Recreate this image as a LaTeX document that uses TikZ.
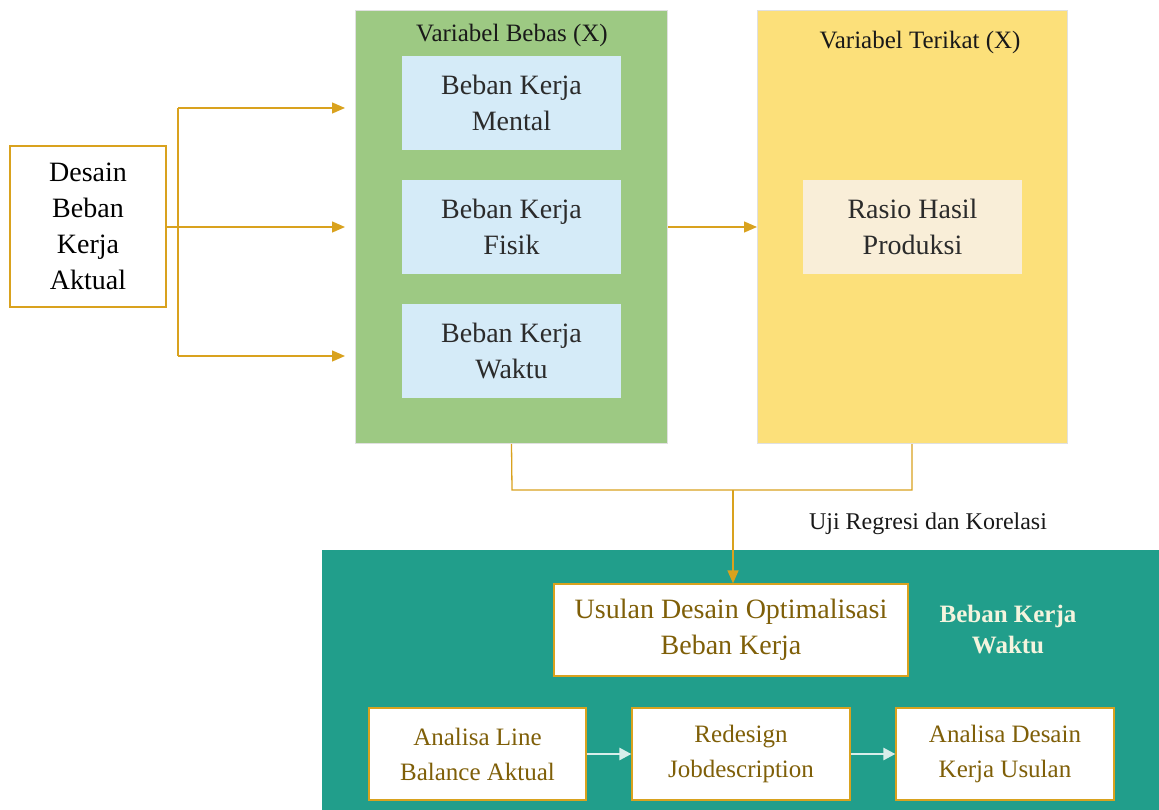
\documentclass[tikz,border=0pt]{standalone}
\usepackage{fontspec}
\setmainfont{Liberation Serif}
\usetikzlibrary{arrows.meta}
\definecolor{gold}{HTML}{D9A21E}
\definecolor{panelgreen}{HTML}{9DC983}
\definecolor{panelyellow}{HTML}{FCE07A}
\definecolor{boxblue}{HTML}{D5EBF8}
\definecolor{boxcream}{HTML}{F9EED8}
\definecolor{teal}{HTML}{219E8B}
\definecolor{browntext}{HTML}{7F5F08}
\definecolor{paletext}{HTML}{F4F4DE}
\definecolor{palearrow}{HTML}{D8EEEA}
\definecolor{darktext}{HTML}{2B2B2B}
\tikzset{
  panel/.style={draw=black!12, line width=1pt},
  inner/.style={minimum width=219pt, minimum height=94pt, align=center,
    text=darktext, font=\fontsize{28}{36}\selectfont, inner sep=0pt},
  tealbox/.style={draw=gold, fill=white, line width=1.2pt, align=center,
    text=browntext, inner sep=0pt},
  flow/.style={draw=gold, line width=1.3pt},
  flowarrow/.style={flow, -{Triangle[length=13pt,width=11pt]}},
  palearrowstyle/.style={draw=palearrow, line width=2.5pt, -{Triangle[length=12pt,width=12pt]}},
  heading/.style={font=\fontsize{25}{30}\selectfont, text=black!90}
}
\begin{document}
\begin{tikzpicture}[x=1pt,y=-1pt]
  \useasboundingbox (0,0) rectangle (1159,810);

  % panels
  \node[panel, fill=panelgreen, minimum width=312pt, minimum height=433pt, inner sep=0pt, anchor=north west] (green) at (355,10) {};
  \node[panel, fill=panelyellow, minimum width=310pt, minimum height=433pt, inner sep=0pt, anchor=north west] (yellow) at (757,10) {};
  \node[fill=teal, minimum width=837pt, minimum height=260pt, inner sep=0pt, anchor=north west] (tealpanel) at (322,550) {};

  % panel headings
  \node[heading] (titleX) at (512,35) {Variabel Bebas (X)};
  \node[heading] (titleY) at (920,42) {Variabel Terikat (X)};

  % independent variables
  \node[inner, fill=boxblue] (mental) at (511.5,103) {Beban Kerja\\Mental};
  \node[inner, fill=boxblue] (fisik) at (511.5,227) {Beban Kerja\\Fisik};
  \node[inner, fill=boxblue] (waktu) at (511.5,351) {Beban Kerja\\Waktu};

  % dependent variable
  \node[inner, fill=boxcream] (rasio) at (912.5,227) {Rasio Hasil\\Produksi};

  % source box
  \node[draw=gold, line width=1.2pt, fill=white, minimum width=156pt, minimum height=161pt,
        align=center, text=black, inner sep=0pt, font=\fontsize{28}{36}\selectfont] (desain) at (88,226.5)
        {Desain\\Beban\\Kerja\\Aktual};

  % fan-out from the source box
  \coordinate (trunk) at (178,227);
  \coordinate (ttop) at (178,108);
  \coordinate (tbot) at (178,356);
  \coordinate (atop) at (345,108);
  \coordinate (amid) at (345,227);
  \coordinate (abot) at (345,356);
  \draw[flow] (ttop) -- (tbot);
  \draw[flowarrow] (desain.east |- trunk) -- (amid);
  \draw[flowarrow] (ttop) -- (atop);
  \draw[flowarrow] (tbot) -- (abot);

  % independent -> dependent
  \draw[flowarrow] (green.east |- fisik) -- (yellow.west |- fisik);

  % merge towards the proposal
  \coordinate (gdown) at (512,490);
  \coordinate (ydown) at (912,490);
  \coordinate (merge) at (733,490);
  \draw[flow] (green.south -| mental) -- (gdown) -- (ydown) -- (ydown |- yellow.south);

  \node[font=\fontsize{24}{28}\selectfont, text=black!90] (uji) at (928,524) {Uji Regresi dan Korelasi};

  % proposal
  \node[tealbox, minimum width=354pt, minimum height=92pt, font=\fontsize{28}{36}\selectfont] (usulan) at (731,630)
       {Usulan Desain Optimalisasi\\Beban Kerja};
  \draw[flowarrow] (merge) -- (usulan.north -| merge);

  \node[text=paletext, align=center, font=\bfseries\fontsize{25}{31}\selectfont] (bkw) at (1008,630)
       {Beban Kerja\\Waktu};

  % steps
  \node[tealbox, minimum width=217pt, minimum height=92pt, font=\fontsize{25}{35}\selectfont] (line) at (477.5,754)
       {Analisa Line\\Balance Aktual};
  \node[tealbox, minimum width=218pt, minimum height=92pt, font=\fontsize{25}{35}\selectfont] (redesign) at (741,754)
       {Redesign\\Jobdescription};
  \node[tealbox, minimum width=218pt, minimum height=92pt, font=\fontsize{25}{35}\selectfont] (usulanakhir) at (1005,754)
       {Analisa Desain\\Kerja Usulan};
  \draw[palearrowstyle] (line) -- (redesign);
  \draw[palearrowstyle] (redesign) -- (usulanakhir);
\end{tikzpicture}
\end{document}
